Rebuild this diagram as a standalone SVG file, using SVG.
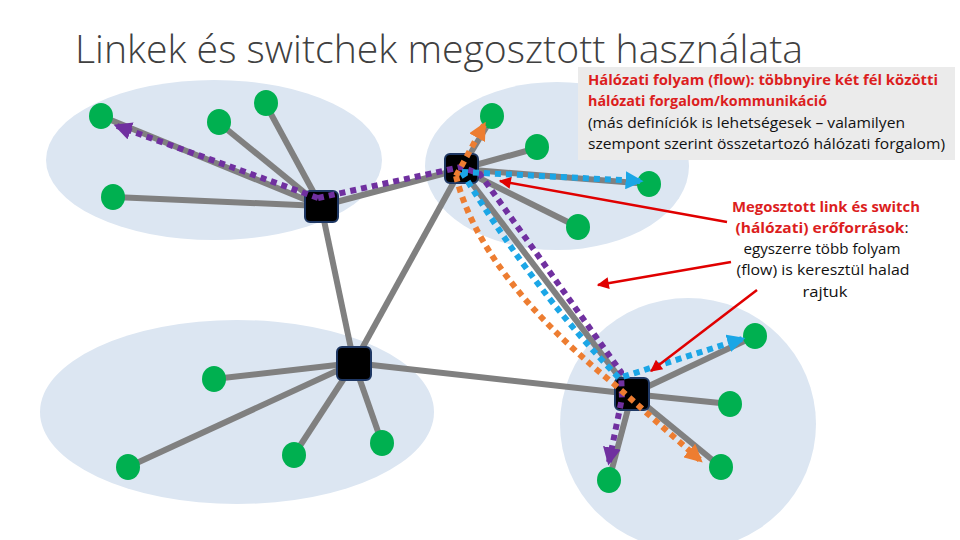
<svg xmlns="http://www.w3.org/2000/svg" width="960" height="540" viewBox="0 0 960 540">
<style>
.zone{fill:#DCE6F2}
.link{stroke:#808080;stroke-width:6;fill:none}
.host{fill:#00B050}
.sw{fill:#000;stroke:#1F3864;stroke-width:2}
.flow{fill:none;stroke-width:6;stroke-dasharray:6 5}
.p{stroke:#7030A0}
.o{stroke:#ED7D31}
.c{stroke:#1BA6E6}
.ann{stroke:#E00000;stroke-width:2.5;fill:none}
.t{font-family:"Open Sans","Liberation Sans",sans-serif}
.red{fill:#DC1E1E;font-weight:bold}
.blk{fill:#111}
</style>
<defs>
<marker id="ap" viewBox="0 0 10 10" refX="8" refY="5" markerWidth="18" markerHeight="18" markerUnits="userSpaceOnUse" orient="auto"><path d="M0,0L10,5L0,10z" fill="#7030A0"/></marker>
<marker id="ao" viewBox="0 0 10 10" refX="8" refY="5" markerWidth="18" markerHeight="18" markerUnits="userSpaceOnUse" orient="auto"><path d="M0,0L10,5L0,10z" fill="#ED7D31"/></marker>
<marker id="ac" viewBox="0 0 10 10" refX="8" refY="5" markerWidth="18" markerHeight="18" markerUnits="userSpaceOnUse" orient="auto"><path d="M0,0L10,5L0,10z" fill="#1BA6E6"/></marker>
<marker id="ar" viewBox="0 0 10 10" refX="9" refY="5" markerWidth="14" markerHeight="12" markerUnits="userSpaceOnUse" orient="auto"><path d="M0,0L10,5L0,10z" fill="#E00000"/></marker>
</defs>
<rect width="960" height="540" fill="#fff"/>
<text class="t" x="75" y="63" font-size="38" font-weight="300" fill="#404040" textLength="728" lengthAdjust="spacingAndGlyphs">Linkek és switchek megosztott használata</text>
<g id="zones">
<ellipse class="zone" cx="214" cy="160" rx="168" ry="80"/>
<ellipse class="zone" cx="557" cy="166" rx="132" ry="84"/>
<ellipse class="zone" cx="237" cy="412" rx="197" ry="92"/>
<ellipse class="zone" cx="688" cy="424" rx="128" ry="126"/>
</g>
<g id="links">
<line class="link" x1="321" y1="206" x2="101" y2="116"/>
<line class="link" x1="321" y1="206" x2="219" y2="123"/>
<line class="link" x1="321" y1="206" x2="265" y2="103"/>
<line class="link" x1="321" y1="206" x2="114" y2="197"/>
<line class="link" x1="321" y1="206" x2="461" y2="169"/>
<line class="link" x1="321" y1="206" x2="354" y2="363"/>
<line class="link" x1="461" y1="169" x2="354" y2="363"/>
<line class="link" x1="461" y1="169" x2="493" y2="116"/>
<line class="link" x1="461" y1="169" x2="537" y2="148"/>
<line class="link" x1="461" y1="169" x2="649" y2="184"/>
<line class="link" x1="461" y1="169" x2="578" y2="227"/>
<line class="link" x1="461" y1="169" x2="632" y2="394"/>
<line class="link" x1="354" y1="363" x2="632" y2="394"/>
<line class="link" x1="354" y1="363" x2="214" y2="379"/>
<line class="link" x1="354" y1="363" x2="128" y2="467"/>
<line class="link" x1="354" y1="363" x2="294" y2="455"/>
<line class="link" x1="354" y1="363" x2="382" y2="443"/>
<line class="link" x1="632" y1="394" x2="755" y2="336"/>
<line class="link" x1="632" y1="394" x2="730" y2="404"/>
<line class="link" x1="632" y1="394" x2="609" y2="480"/>
<line class="link" x1="632" y1="394" x2="721" y2="467"/>
</g>
<g id="hosts">
<ellipse class="host" cx="101" cy="116" rx="12" ry="13"/>
<ellipse class="host" cx="219" cy="122" rx="12" ry="13"/>
<ellipse class="host" cx="266" cy="103" rx="12" ry="13"/>
<ellipse class="host" cx="113" cy="197" rx="12" ry="13"/>
<ellipse class="host" cx="492" cy="116" rx="12" ry="13"/>
<ellipse class="host" cx="537" cy="147" rx="12" ry="13"/>
<ellipse class="host" cx="649" cy="184" rx="12" ry="13"/>
<ellipse class="host" cx="578" cy="227" rx="12" ry="13"/>
<ellipse class="host" cx="214" cy="379" rx="12" ry="13"/>
<ellipse class="host" cx="128" cy="467" rx="12" ry="13"/>
<ellipse class="host" cx="294" cy="455" rx="12" ry="13"/>
<ellipse class="host" cx="382" cy="443" rx="12" ry="13"/>
<ellipse class="host" cx="755" cy="336" rx="12" ry="13"/>
<ellipse class="host" cx="730" cy="404" rx="12" ry="13"/>
<ellipse class="host" cx="609" cy="480" rx="12" ry="13"/>
<ellipse class="host" cx="721" cy="467" rx="12" ry="13"/>
</g>
<g id="switch1"><rect class="sw" x="305" y="191" width="33" height="31" rx="5"/></g>
<g id="switch2"><rect class="sw" x="445" y="154" width="33" height="29" rx="5"/></g>
<g id="switch3"><rect class="sw" x="337" y="347" width="34" height="33" rx="5"/></g>
<g id="switch4"><rect class="sw" x="615" y="378" width="34" height="32" rx="5"/></g>
<g id="flows">
<path class="flow p" d="M318,198 L461,167 L480,174 L621,372 L622,398 L609,462" marker-end="url(#ap)"/>
<path class="flow p" d="M318,198 L117,126" marker-end="url(#ap)"/>
<path class="flow o" d="M456,176 L484,125" marker-end="url(#ao)"/>
<path class="flow o" d="M456,176 Q480,275 614,384 L700,460" marker-end="url(#ao)"/>
<path class="flow c" d="M462,172 L640,181" marker-end="url(#ac)"/>
<path class="flow c" d="M462,172 Q535,292 619,378 L742,339" marker-end="url(#ac)"/>
</g>
<g id="definition-box">
<rect x="578" y="67" width="377" height="93" fill="#EBEBEB"/>
<text class="t red" x="588" y="85" font-size="14.5" textLength="350" lengthAdjust="spacingAndGlyphs">Hálózati folyam (flow): többnyire két fél közötti</text>
<text class="t red" x="588" y="106" font-size="14.5" textLength="239" lengthAdjust="spacingAndGlyphs">hálózati forgalom/kommunikáció</text>
<text class="t blk" x="588" y="128" font-size="14.5" textLength="317" lengthAdjust="spacingAndGlyphs">(más definíciók is lehetségesek – valamilyen</text>
<text class="t blk" x="588" y="149" font-size="14.5" textLength="357" lengthAdjust="spacingAndGlyphs">szempont szerint összetartozó hálózati forgalom)</text>
</g>
<g id="shared-note">
<text class="t red" x="826" y="212" font-size="14.5" text-anchor="middle" textLength="188" lengthAdjust="spacingAndGlyphs">Megosztott link és switch</text>
<text class="t" x="822" y="233" font-size="14.5" text-anchor="middle" textLength="173" lengthAdjust="spacingAndGlyphs"><tspan class="red">(hálózati) erőforrások</tspan><tspan class="blk">:</tspan></text>
<text class="t blk" x="822" y="254" font-size="14.5" text-anchor="middle" textLength="157" lengthAdjust="spacingAndGlyphs">egyszerre több folyam</text>
<text class="t blk" x="823" y="275" font-size="14.5" text-anchor="middle" textLength="173" lengthAdjust="spacingAndGlyphs">(flow) is keresztül halad</text>
<text class="t blk" x="825" y="297" font-size="14.5" text-anchor="middle" textLength="45" lengthAdjust="spacingAndGlyphs">rajtuk</text>
</g>
<g id="annotation-arrows">
<line class="ann" x1="727" y1="222" x2="500" y2="181" marker-end="url(#ar)"/>
<line class="ann" x1="731" y1="262" x2="598" y2="285" marker-end="url(#ar)"/>
<line class="ann" x1="757" y1="290" x2="651" y2="371" marker-end="url(#ar)"/>
</g>
</svg>
